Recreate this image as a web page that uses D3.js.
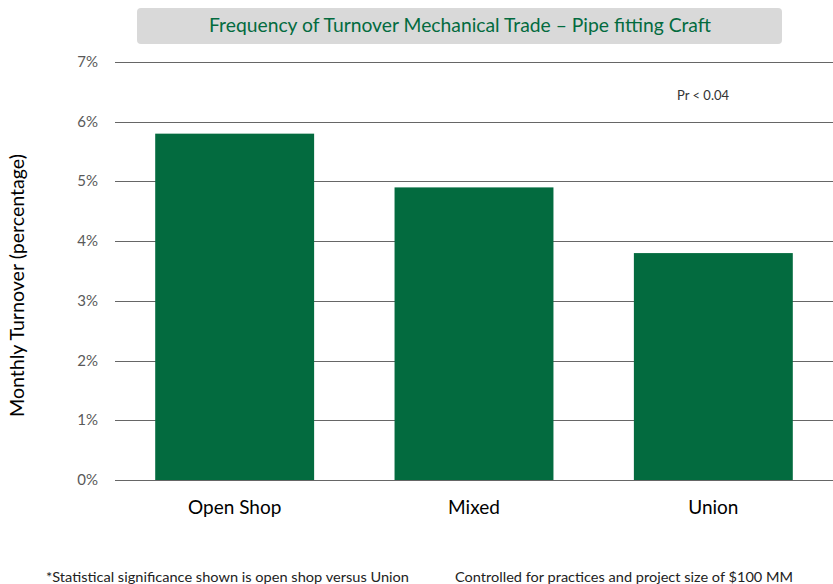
<!DOCTYPE html>
<html>
<head>
<meta charset="utf-8">
<script src="https://cdn.jsdelivr.net/npm/d3@7"></script>
<style>
  body { margin: 0; background: #fff; }
  svg { display: block; font-family: Lato, "Open Sans", sans-serif; }
</style>
</head>
<body>
<div id="chart"><svg></svg></div>
<script>
// chart data
var categories = ['Open Shop', 'Mixed', 'Union'];
var turnover = [5.8, 4.9, 3.8];
var yTicks = [0, 1, 2, 3, 4, 5, 6, 7];

var title = 'Frequency of Turnover Mechanical Trade \u2013 Pipe fitting Craft';
var yTitle = 'Monthly Turnover (percentage)';
var note = 'Pr < 0.04';
var footLeft = '*Statistical significance shown is open shop versus Union';
var footRight = 'Controlled for practices and project size of $100 MM';

var width = 833, height = 584;
var green = '#036b3f';

var svg = d3.select('#chart').select('svg')
    .attr('width', width)
    .attr('height', height);

// title box
svg.append('rect')
    .attr('x', 137).attr('y', 8)
    .attr('width', 645).attr('height', 36)
    .attr('rx', 4)
    .attr('fill', '#d9d9d9');

svg.append('text')
    .attr('x', 209).attr('y', 32)
    .attr('fill', green)
    .attr('font-size', 20)
    .attr('textLength', 502)
    .attr('lengthAdjust', 'spacingAndGlyphs')
    .text(title);

var x = d3.scaleBand()
    .domain(categories)
    .range([115, 833])
    .paddingInner(0.336)
    .paddingOuter(0.168);

var y = d3.scaleLinear()
    .domain([0, 7])
    .range([480, 62]);

// gridlines
svg.append('g').selectAll('line').data(yTicks).enter()
    .append('line')
    .attr('x1', 115).attr('x2', 833)
    .attr('y1', function (d) { return Math.round(y(d)) + 0.5; })
    .attr('y2', function (d) { return Math.round(y(d)) + 0.5; })
    .attr('stroke', '#666')
    .attr('stroke-width', 1.2);

// y tick labels
svg.append('g').selectAll('text').data(yTicks).enter()
    .append('text')
    .attr('x', 98)
    .attr('y', function (d) { return y(d) + 5; })
    .attr('text-anchor', 'end')
    .attr('fill', '#595959')
    .attr('font-size', 15)
    .text(function (d) { return d + '%'; });

// bars
svg.append('g').selectAll('rect').data(turnover).enter()
    .append('rect')
    .attr('x', function (d, i) { return x(categories[i]); })
    .attr('y', function (d) { return y(d); })
    .attr('width', x.bandwidth())
    .attr('height', function (d) { return y(0) - y(d); })
    .attr('fill', green);

// category labels
svg.append('g').selectAll('text').data(categories).enter()
    .append('text')
    .attr('x', function (d) { return x(d) + x.bandwidth() / 2; })
    .attr('y', 514)
    .attr('text-anchor', 'middle')
    .attr('fill', '#000')
    .attr('font-size', 19)
    .text(function (d) { return d; });

// y axis title
svg.append('text')
    .attr('transform', 'translate(24,286) rotate(-90)')
    .attr('x', -131)
    .attr('font-size', 19)
    .attr('fill', '#000')
    .attr('textLength', 263)
    .attr('lengthAdjust', 'spacingAndGlyphs')
    .text(yTitle);

svg.append('text')
    .attr('x', 677).attr('y', 100)
    .attr('font-size', 13)
    .attr('fill', '#333')
    .text(note);

svg.append('text')
    .attr('x', 46).attr('y', 582)
    .attr('font-size', 14)
    .attr('fill', '#222')
    .attr('textLength', 363)
    .attr('lengthAdjust', 'spacingAndGlyphs')
    .text(footLeft);

svg.append('text')
    .attr('x', 455).attr('y', 582)
    .attr('font-size', 14)
    .attr('fill', '#222')
    .attr('textLength', 338)
    .attr('lengthAdjust', 'spacingAndGlyphs')
    .text(footRight);
</script>
</body>
</html>
